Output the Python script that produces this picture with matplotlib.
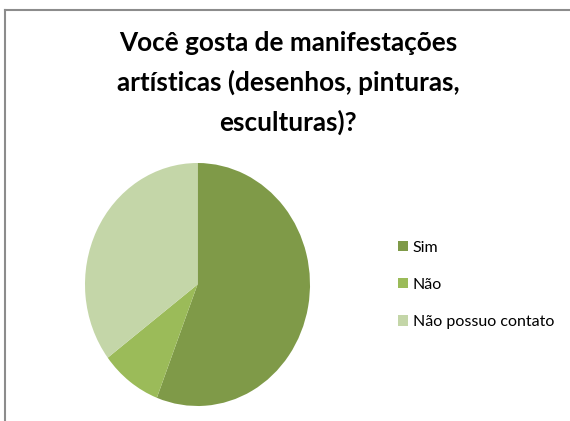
import matplotlib
matplotlib.use("Agg")
import matplotlib.pyplot as plt
from matplotlib.patches import Patch
from matplotlib.lines import Line2D

categories = ["Sim", "Não", "Não possuo contato"]
values = [19, 3, 12]
colors = ["#7F9A48", "#9BBB59", "#C4D6A8"]
title = "Você gosta de manifestações\nartísticas (desenhos, pinturas,\nesculturas)?"

plt.rcParams['font.family'] = ['Lato', 'DejaVu Sans']

fig = plt.figure(figsize=(5.70, 4.21), dpi=100)
W, H = 570, 421

# chart frame
fig.add_artist(Line2D([5/W, 5/W], [0, 1 - 10/H], color="#8c8c8c", lw=1.5))
fig.add_artist(Line2D([5/W, 1], [1 - 10/H, 1 - 10/H], color="#8c8c8c", lw=1.5))

ax = fig.add_axes([85/W, (H-406)/H, 225/W, 243/H])
ax.pie(values, colors=colors, startangle=90, counterclock=False,
       wedgeprops=dict(linewidth=0))
ax.set_aspect('auto')
ax.set_xlim(-1, 1)
ax.set_ylim(-1, 1)
ax.axis('off')

fig.text(0.505, 1 - 31/H, title, ha='center', va='top', fontsize=18.8,
         fontweight='bold', linespacing=1.7, color='black')

handles = [Patch(facecolor=c, edgecolor='none') for c in colors]
fig.legend(handles, categories, loc='center left',
           bbox_to_anchor=(392/W, 1 - 285/H), frameon=False, fontsize=11.5,
           handlelength=0.6, handleheight=0.6, handletextpad=0.3,
           labelspacing=1.45, borderaxespad=0)

fig.savefig("out.png", dpi=100)
